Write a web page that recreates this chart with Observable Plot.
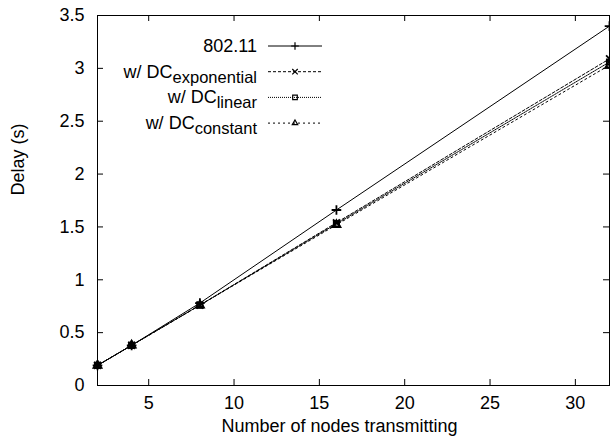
<!DOCTYPE html>
<html>
<head>
<meta charset="utf-8">
<script src="https://cdn.jsdelivr.net/npm/d3@7"></script>
<script src="https://cdn.jsdelivr.net/npm/@observablehq/plot@0.6"></script>
<style>
  html, body { margin: 0; padding: 0; background: #fff; }
  #chart svg { display: block; }
</style>
</head>
<body>
<div id="chart"></div>
<script>
// ---- data ----
const nodes = [2, 4, 8, 16, 32];
const delay80211 = [0.19, 0.38, 0.78, 1.66, 3.40];
const delayExp   = [0.19, 0.38, 0.76, 1.54, 3.09];
const delayLin   = [0.19, 0.38, 0.76, 1.53, 3.06];
const delayConst = [0.19, 0.38, 0.76, 1.52, 3.03];

const seriesKeys = ["802.11", "exponential", "linear", "constant"];
const seriesValues = [delay80211, delayExp, delayLin, delayConst];

const xTicks = [5, 10, 15, 20, 25, 30];
const yTicks = [0, 0.5, 1, 1.5, 2, 2.5, 3, 3.5];
const xLabel = "Number of nodes transmitting";
const yLabel = "Delay (s)";

// ---- styles (kept apart from data) ----
const styles = {
  "802.11":      {dash: null,  symbol: "plus",     r: 3.2},
  "exponential": {dash: "3,2", symbol: "times",    r: 3.2},
  "linear":      {dash: "1,1", symbol: "square",   r: 3.0},
  "constant":    {dash: "2,3", symbol: "triangle", r: 3.0}
};

const rows = seriesKeys.flatMap((k, i) =>
  nodes.map((n, j) => ({series: k, nodes: n, delay: seriesValues[i][j]})));

const W = 610, H = 448;
const mL = 97, mR = 1, mT = 15, mB = 63;
const FONT = "Liberation Sans, Arial, Helvetica, sans-serif";
const FS = 18;
const tick = 6;

const marks = [
  Plot.frame({stroke: "black"}),
  Plot.tickX(xTicks, {x: d => d, insetTop: (H - mT - mB) - tick, stroke: "black"}),
  Plot.tickX(xTicks, {x: d => d, insetBottom: (H - mT - mB) - tick, stroke: "black"}),
  Plot.tickY(yTicks, {y: d => d, insetRight: (W - mL - mR) - tick, stroke: "black"}),
  Plot.tickY(yTicks, {y: d => d, insetLeft: (W - mL - mR) - tick, stroke: "black"}),
  Plot.axisX({ticks: xTicks, tickSize: 0, tickPadding: 11, label: null, fontSize: FS, tickFormat: d => String(d)}),
  Plot.axisY({ticks: yTicks, tickSize: 0, tickPadding: 13, label: null, fontSize: FS, tickFormat: d => String(d)}),
  Plot.text([xLabel], {frameAnchor: "bottom", dy: 46, dx: -14, fontSize: FS, text: d => d}),
  Plot.text([yLabel], {frameAnchor: "left", rotate: -90, dx: -79, dy: -5, fontSize: FS, text: d => d})
];
for (const k of seriesKeys) {
  const s = styles[k];
  const data = rows.filter(d => d.series === k);
  marks.push(Plot.line(data, {x: "nodes", y: "delay", stroke: "black", strokeWidth: 1,
    strokeDasharray: s.dash ?? undefined}));
}
for (const k of seriesKeys) {
  const s = styles[k];
  const data = rows.filter(d => d.series === k);
  marks.push(Plot.dot(data, {x: "nodes", y: "delay", symbol: s.symbol, r: s.r,
    stroke: "black", strokeWidth: 1.8, fill: "none"}));
}

const chart = Plot.plot({
  width: W, height: H,
  marginLeft: mL, marginRight: mR, marginTop: mT, marginBottom: mB,
  style: {fontFamily: FONT, fontSize: FS + "px", background: "white", color: "black"},
  x: {domain: [2, 32]},
  y: {domain: [0, 3.5]},
  marks
});

// ---- legend (inside the plot, top-left) ----
const svg = d3.select(chart);
const lg = svg.append("g").attr("font-family", FONT).attr("font-size", FS);
const legendRows = [
  {key: "802.11", main: "802.11", sub: null},
  {key: "exponential", main: "w/ DC", sub: "exponential"},
  {key: "linear", main: "w/ DC", sub: "linear"},
  {key: "constant", main: "w/ DC", sub: "constant"}
];
const symMap = {plus: d3.symbolPlus, times: d3.symbolTimes, square: d3.symbolSquare, triangle: d3.symbolTriangle2};
const textRight = 257, lineX1 = 268, lineX2 = 322, row0 = 46, rowStep = 25.7;
legendRows.forEach((r, i) => {
  const cy = row0 + i * rowStep;
  const t = lg.append("text").attr("text-anchor", "end").attr("x", textRight).attr("y", cy + 6).attr("fill", "black");
  t.append("tspan").text(r.main);
  if (r.sub) t.append("tspan").attr("dy", 5).attr("font-size", 16.5).text(r.sub);
  const s = styles[r.key];
  lg.append("line").attr("x1", lineX1).attr("x2", lineX2).attr("y1", cy).attr("y2", cy)
    .attr("stroke", "black").attr("stroke-width", 1).attr("stroke-dasharray", s.dash);
  const rr = 2.6;
  lg.append("path").attr("transform", `translate(${(lineX1 + lineX2) / 2},${cy})`)
    .attr("d", d3.symbol(symMap[s.symbol], rr * rr * Math.PI)())
    .attr("fill", "none").attr("stroke", "black").attr("stroke-width", 1.2);
});

document.getElementById("chart").appendChild(chart);
</script>
</body>
</html>
